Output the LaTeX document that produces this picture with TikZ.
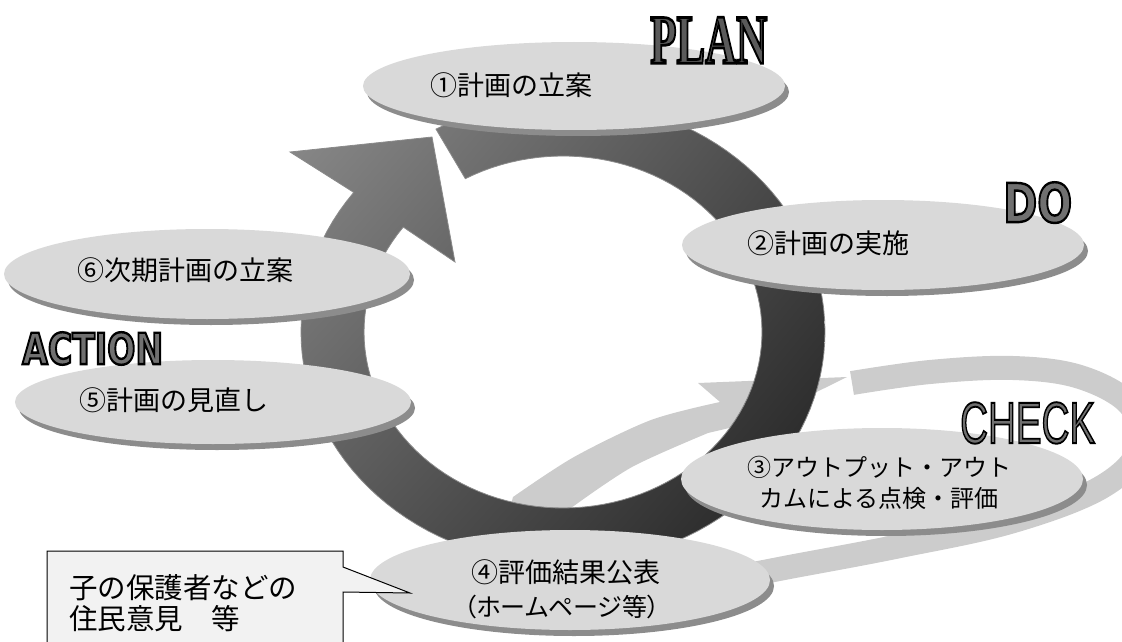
\documentclass[tikz,border=0pt]{standalone}
\usepackage{fontspec}
\usepackage{graphicx}
\setmainfont{Liberation Sans}
\newfontfamily\jp{Noto Sans CJK JP}
\newfontfamily\jpprop[RawFeature=+palt]{Noto Sans CJK JP}
\newfontfamily\lserif{Liberation Serif}
\newfontfamily\dvsans{DejaVu Sans}
\usetikzlibrary{shapes.geometric,shadings}
\definecolor{ellfill}{HTML}{D9D9D9}
\definecolor{ellshad}{HTML}{8C8C8C}
\definecolor{bandc}{HTML}{CCCCCC}
\definecolor{calloutfill}{HTML}{F2F2F2}
\definecolor{ringUL}{HTML}{8C8C8C}
\definecolor{ringUR}{HTML}{4A4A4A}
\definecolor{ringLL}{HTML}{5A5A5A}
\definecolor{ringLR}{HTML}{1E1E1E}
\definecolor{ringedge}{HTML}{8A8A8A}
\definecolor{lblgray}{HTML}{707070}
\definecolor{plangray}{HTML}{5A5A5A}
% outlined text: fill in current colour, black stroke of width #1
\newcommand\outlinedtext[2]{{\special{pdf:literal direct 0 0 0 RG #1 w 2 Tr}#2\special{pdf:literal direct 0 Tr}}}
\begin{document}
\begin{tikzpicture}[x=1pt,y=-1pt,
  disc/.style={ellipse, fill=ellfill, inner sep=0pt},
  discshadow/.style={ellipse, fill=ellshad, inner sep=0pt},
  disctext/.style={font=\jp\fontsize{27}{31}\selectfont, align=center, inner sep=0pt},
  disctextsmall/.style={font=\jp\fontsize{24}{31}\selectfont, align=center, inner sep=0pt},
  disctextparen/.style={font=\jpprop\fontsize{25}{31}\selectfont, inner sep=0pt},
  callouttext/.style={font=\jp\fontsize{28.5}{32}\selectfont, anchor=west, inner sep=0pt},
  lbl/.style={anchor=north west, inner sep=0pt},
]
\useasboundingbox (0,0) rectangle (1122,642);
\clip (0,0) rectangle (1122,642);

% light gray loop arrow
\draw[bandc, line width=24pt, line join=round]
  plot[smooth, tension=0.6] coordinates {(852,383) (930,372) (1013,368) (1080,377) (1130,405) (1140,448) (1100,488) (1010,522) (900,546) (800,565) (700,583) (600,592) (545,565) (535,530)};
\fill[bandc] (500,545) -- plot[smooth] coordinates {(513,497) (574,457) (651,420) (720,402)}
  -- (698,383) -- (847,377) -- (760,420) -- (742,425)
  -- plot[smooth] coordinates {(708,433) (632,467) (571,508)} -- (560,550) -- cycle;

% dark circular arrow
\shadedraw[upper left=ringUL, upper right=ringUR, lower left=ringLL, lower right=ringLR, draw=ringedge, line width=0.8pt]
  plot[domain=-119:217, samples=120] ({563+262*cos(\x)},{332+232*sin(\x)})
  -- (290,152) -- (432,137) -- (455,262)
  -- plot[domain=216.6:-119.4, samples=120] ({563+199*cos(\x)},{332+176*sin(\x)})
  -- cycle;

% discs
\node[discshadow, minimum width=422pt, minimum height=88pt] (s1) at (578,92) {};
\node[disc, minimum width=422pt, minimum height=88pt] (e1) at (574,86) {};
\node[discshadow, minimum width=402pt, minimum height=90pt] (s2) at (887,251) {};
\node[disc, minimum width=402pt, minimum height=90pt] (e2) at (883,245) {};
\node[discshadow, minimum width=406pt, minimum height=90pt] (s6) at (211,280) {};
\node[disc, minimum width=406pt, minimum height=90pt] (e6) at (207,274) {};
\node[discshadow, minimum width=396pt, minimum height=84pt] (s5) at (217,408) {};
\node[disc, minimum width=396pt, minimum height=84pt] (e5) at (213,402) {};
\node[discshadow, minimum width=402pt, minimum height=102pt] (s3) at (886,485) {};
\node[disc, minimum width=402pt, minimum height=102pt] (e3) at (882,479) {};
\node[discshadow, minimum width=400pt, minimum height=100pt] (s4) at (574,586) {};
\node[disc, minimum width=400pt, minimum height=100pt] (e4) at (570,580) {};

\node[disctext] (t1) at (511,85) {①計画の立案};
\node[disctext] (t2) at (828,243) {②計画の実施};
\node[disctext] (t6) at (185,270) {⑥次期計画の立案};
\node[disctext] (t5) at (174,400) {⑤計画の見直し};
\node[disctextsmall] (t3) at (879,483) {③アウトプット・アウト\\カムによる点検・評価};
\node[disctext] (t4a) at (566,572) {④評価結果公表};
\node[disctextparen] (t4b) at (562,607) {（ホームページ等）};

% labels
\node[lbl] (plan) at (650,17) {\resizebox{117pt}{46pt}{\lserif\bfseries\color{plangray}\outlinedtext{0.4}{PLAN}}};
\node[lbl] (do) at (1003,182) {\resizebox{69pt}{40pt}{\dvsans\bfseries\fontsize{40}{40}\selectfont\color{lblgray}\outlinedtext{1.8}{DO}}};
\node[lbl] (check) at (960,402) {\resizebox{135pt}{41pt}{\fontsize{40}{40}\selectfont\color{lblgray}\outlinedtext{1.3}{CHECK}}};
\node[lbl] (action) at (22,332) {\resizebox{141pt}{32pt}{\dvsans\bfseries\fontsize{32}{32}\selectfont\color{lblgray}\outlinedtext{1.8}{ACTION}}};

% callout
\draw[fill=calloutfill, line width=1pt, line join=miter]
  (47,551) -- (343,551) -- (343,567) -- (410,593) -- (343,592) -- (343,660) -- (47,660) -- cycle;
\node[callouttext] (c1) at (69,588) {子の保護者などの};
\node[callouttext] (c2) at (69,619) {住民意見　等};
\end{tikzpicture}
\end{document}
